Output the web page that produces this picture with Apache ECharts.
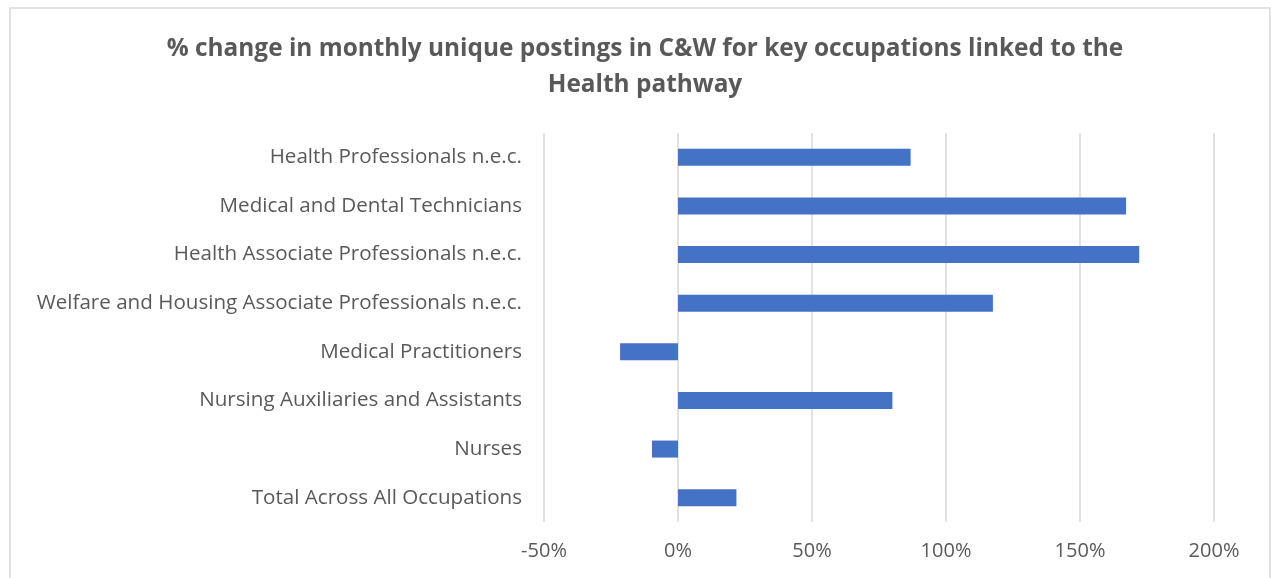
<!DOCTYPE html>
<html>
<head>
<meta charset="utf-8">
<script src="https://cdn.jsdelivr.net/npm/echarts@6/dist/echarts.min.js"></script>
<style>
  html, body { margin: 0; padding: 0; background: #fff; }
  #chart { width: 1271px; height: 578px; }
</style>
</head>
<body>
<div id="chart"></div>
<script>
// categories, top to bottom
const categories = [
  'Health Professionals n.e.c.',
  'Medical and Dental Technicians',
  'Health Associate Professionals n.e.c.',
  'Welfare and Housing Associate Professionals n.e.c.',
  'Medical Practitioners',
  'Nursing Auxiliaries and Assistants',
  'Nurses',
  'Total Across All Occupations'
]
// % change
const pctChange = [86.8, 167.2, 172.1, 117.5, -21.6, 80.0, -9.7, 21.8]
const xTicks = { min: -50, max: 200, step: 50 }

const font = '"Open Sans", sans-serif'
const mychart = echarts.init(document.getElementById('chart'))
mychart.setOption({
  animation: false,
  title: {
    text: '% change in monthly unique postings in C&W for key occupations linked to the\nHealth pathway',
    left: 640,
    textAlign: 'center',
    top: 26,
    textStyle: {
      fontFamily: font,
      fontWeight: 'bold',
      fontSize: 24.4,
      lineHeight: 36,
      color: '#595959'
    }
  },
  //外框
  graphic: [{
    type: 'rect',
    shape: { x: 10, y: 8, width: 1260, height: 620 },
    style: { fill: 'none', stroke: '#d9d9d9', lineWidth: 1.5 },
    silent: true
  }],
  grid: { left: 544, right: 57, top: 133, bottom: 56 },
  xAxis: {
    type: 'value',
    min: xTicks.min,
    max: xTicks.max,
    interval: xTicks.step,
    axisLine: { show: false },
    axisTick: { show: false },
    splitLine: { lineStyle: { color: '#d9d9d9', width: 1.5 } },
    axisLabel: {
      formatter: '{value}%',
      fontFamily: font,
      fontSize: 20,
      color: '#595959',
      margin: 19
    }
  },
  yAxis: {
    type: 'category',
    inverse: true,
    data: categories,
    axisLine: { show: false, onZero: false },
    axisTick: { show: false },
    axisLabel: {
      fontFamily: font,
      fontSize: 20.6,
      color: '#595959',
      margin: 22
    }
  },
  series: [{
    type: 'bar',
    data: pctChange,
    barWidth: 17,
    itemStyle: { color: '#4472c4' }
  }]
})
</script>
</body>
</html>
